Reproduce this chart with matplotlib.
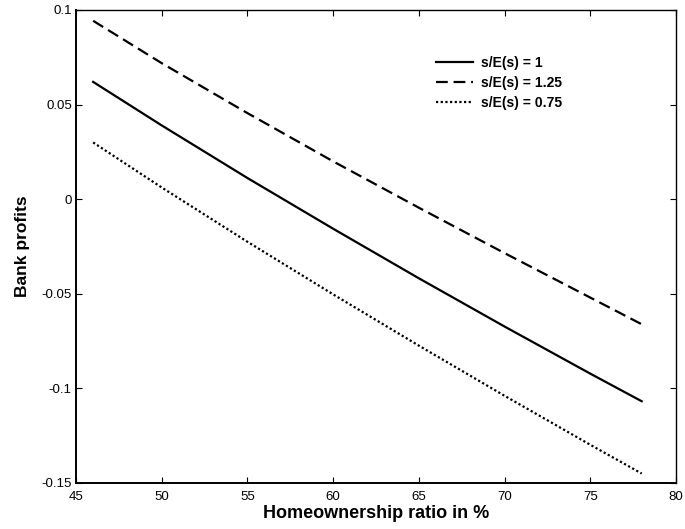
import matplotlib
matplotlib.use("Agg")
import matplotlib.pyplot as plt

plt.rcParams['font.family'] = ['Liberation Sans', 'DejaVu Sans']

ratio = [46, 50, 55, 60, 65, 70, 75, 78]
profits_1 = [0.0620, 0.0390, 0.0112, -0.0156, -0.0418, -0.0673, -0.0922, -0.1068]
profits_125 = [0.0943, 0.0719, 0.0455, 0.0200, -0.0045, -0.0285, -0.0520, -0.0661]
profits_075 = [0.0300, 0.0062, -0.0225, -0.0503, -0.0774, -0.1039, -0.1298, -0.1450]
labels = ["s/E(s) = 1", "s/E(s) = 1.25", "s/E(s) = 0.75"]
xticks = [45, 50, 55, 60, 65, 70, 75, 80]
yticks = [-0.15, -0.1, -0.05, 0, 0.05, 0.1]
yticklabels = ["-0.15", "-0.1", "-0.05", "0", "0.05", "0.1"]

fig = plt.figure(figsize=(6.85, 5.29), dpi=100)
ax = fig.add_axes([76/685, 1 - 483/529, 600/685, 473/529])

ax.plot(ratio, profits_1, color='black', lw=1.6, ls='-', label=labels[0])
ax.plot(ratio, profits_125, color='black', lw=1.6, ls=(0, (5.3, 2.6)), label=labels[1])
ax.plot(ratio, profits_075, color='black', lw=1.6, ls=(0, (1, 1.1)), label=labels[2])

ax.set_xlim(45, 80)
ax.set_ylim(-0.15, 0.1)
ax.set_xticks(xticks)
ax.set_xticklabels([str(v) for v in xticks])
ax.set_yticks(yticks)
ax.set_yticklabels(yticklabels)
ax.tick_params(direction='in', length=4.5, width=0.8, top=True, right=True,
               labelsize=9.5)
ax.tick_params(axis='x', pad=5.5)
ax.tick_params(axis='y', pad=3)
for s in ax.spines.values():
    s.set_linewidth(1.0)
ax.spines['left'].set_linewidth(1.4)
ax.spines['bottom'].set_linewidth(1.4)

ax.set_xlabel("Homeownership ratio in %", fontsize=13, fontweight='bold', labelpad=1.5)
ax.set_ylabel("Bank profits", fontsize=12.5, fontweight='bold', labelpad=8)

leg = ax.legend(loc='upper left', bbox_to_anchor=(0.59, 0.915), frameon=False,
                prop={'size': 10, 'weight': 'bold'}, handlelength=2.66,
                handletextpad=0.58, labelspacing=0.45, borderaxespad=0)

fig.savefig("out.png", dpi=100)
